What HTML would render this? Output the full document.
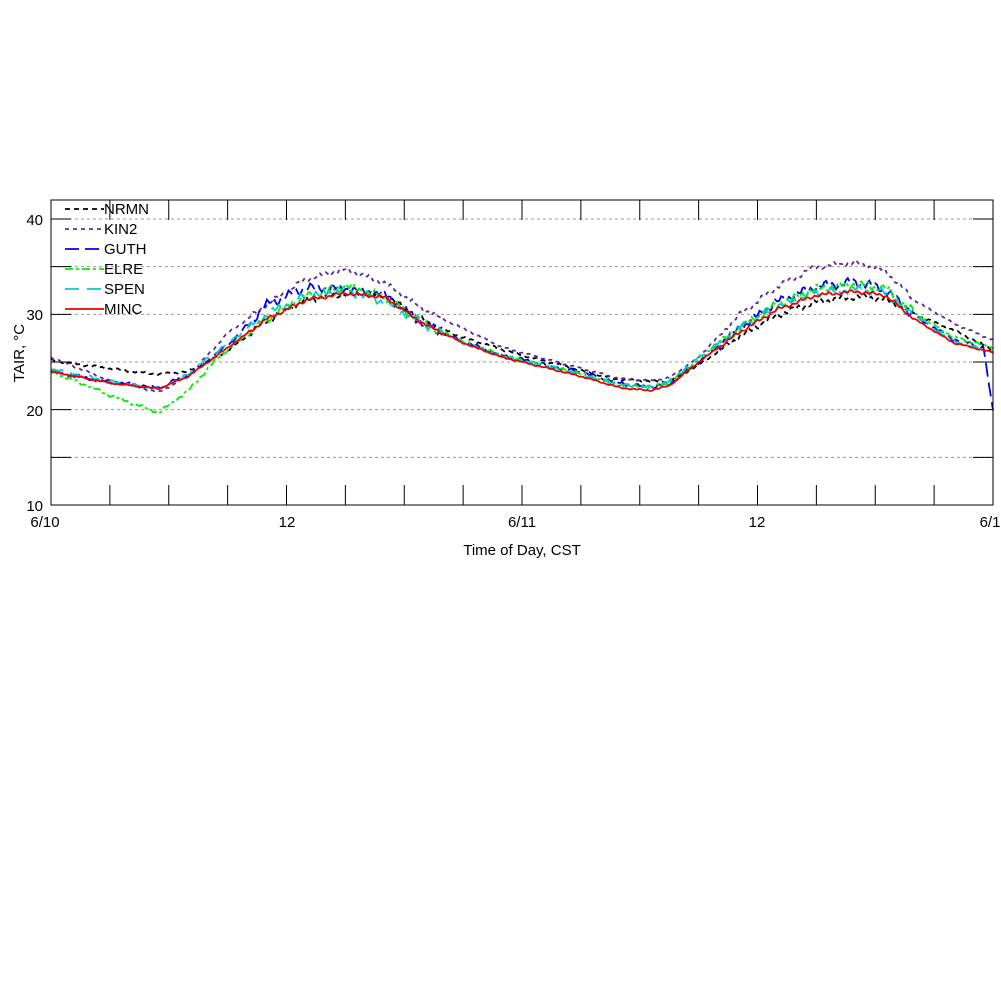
<!DOCTYPE html>
<html><head><meta charset="utf-8"><style>
body{margin:0;background:#fff;}
svg{display:block;font-family:"Liberation Sans",sans-serif;}
</style></head><body>
<svg id="s" width="1001" height="1001" xmlns="http://www.w3.org/2000/svg">
<rect width="1001" height="1001" fill="#fff"/>
<g id="grid" stroke="#999" stroke-dasharray="3,3" stroke-width="1"></g>
<g id="ticks" stroke="#000" stroke-width="1"></g>
<g id="series" fill="none" stroke-width="1.8"></g>
<rect x="51" y="200" width="942" height="305" fill="none" stroke="#000" stroke-width="1"/>
<g font-size="15" fill="#000" text-anchor="end">
<text x="43" y="225">40</text><text x="43" y="320">30</text><text x="43" y="416">20</text><text x="43" y="511">10</text>
</g>
<g font-size="15" fill="#000" text-anchor="middle">
<text x="45" y="527">6/10</text><text x="287" y="527">12</text><text x="522" y="527">6/11</text><text x="757" y="527">12</text><text x="990" y="527">6/1</text>
<text x="522" y="555">Time of Day, CST</text>
</g>
<text transform="translate(24,353) rotate(-90)" font-size="15" text-anchor="middle">TAIR, °C</text>
<g font-size="15" fill="#000" id="leg"></g>
</svg>
<script>
var NS="http://www.w3.org/2000/svg";
function el(p,t,a){var e=document.createElementNS(NS,t);for(var k in a)e.setAttribute(k,a[k]);p.appendChild(e);return e;}
var X=function(h){return 51+h*19.625},Y=function(t){return 505-(t-10)*9.533};
var g=document.getElementById('grid'),tk=document.getElementById('ticks');
[15,20,25,30,35,40].forEach(function(t){el(g,'line',{x1:51,x2:993,y1:Y(t),y2:Y(t)});});
[15,20,25,30,35,40,10].forEach(function(t){el(tk,'line',{x1:51,x2:71,y1:Y(t),y2:Y(t)});el(tk,'line',{x1:973,x2:993,y1:Y(t),y2:Y(t)});});
for(var h=3;h<48;h+=3){el(tk,'line',{x1:X(h),x2:X(h),y1:200,y2:220});el(tk,'line',{x1:X(h),x2:X(h),y1:485,y2:505});}
var base=[[0,24],[3,22.8],[5.5,22.2],[7,23.5],[9,26.5],[11,29.5],[13,31.5],[15,32.2],[17,31.8],[19,29],[21,27],[23,25.5],[25,24.5],[27,23.5],[29,22.3],[30.5,22],[31.5,22.5],[33,25],[35,28],[37,30.5],[39,32],[41,32.4],[42.5,32],[44,29.5],[46,27],[48,26]];
function interp(pts,h){for(var i=1;i<pts.length;i++){if(h<=pts[i][0]){var a=pts[i-1],b=pts[i],f=(h-a[0])/(b[0]-a[0]);return a[1]+f*(b[1]-a[1]);}}return pts[pts.length-1][1];}
var S=[
 {n:'NRMN',c:'#000',d:'5,4',off:[[0,1.2],[3,1.5],[5.5,1.5],[7,0.5],[9,-0.3],[13,0],[15,0],[19,0.3],[23,0.8],[27,0.6],[30.5,1],[33,-0.3],[39,-0.7],[42.5,-0.4],[44,0.5],[46,1.3],[48,0.3]],nz:0.35},
 {n:'KIN2',c:'#5b2a9e',d:'4,4',off:[[0,1.5],[3,0.2],[5.5,-0.4],[7,0],[9,1.5],[11,1.5],[13,2.2],[15,2.5],[17,1.5],[19,1.5],[21,1.5],[23,1],[27,0.8],[30.5,1],[33,0.5],[35,1.8],[39,3],[41,3],[42.5,2.6],[44,2],[46,2],[48,1.3]],nz:0.3},
 {n:'GUTH',c:'#0000ee',d:'14,6',off:[[0,0],[9,0.2],[11,1.5],[13,1.3],[15,0.5],[17,0.3],[19,0],[29,0.5],[33,0],[37,0.8],[41,1],[44,0.3],[47.5,0.4],[48,-6.2]],nz:0.5},
 {n:'ELRE',c:'#00ee00',d:'8,3,3,3',off:[[0,0],[2,-0.8],[5.5,-2.5],[7,-1.5],[8.5,-0.3],[11,0],[15,0.8],[17,0],[29,0.3],[33,0.3],[41,0.8],[48,0.5]],nz:0.45},
 {n:'SPEN',c:'#00cccc',d:'14,8',off:[[0,0.3],[5.5,0],[9,0.5],[13,0.5],[15,0.3],[17,-0.5],[19,0],[29,0.3],[33,0.5],[41,0.2],[44,0.4],[48,0]],nz:0.45},
 {n:'MINC',c:'#ee0000',d:'',off:[[0,0],[48,0]],nz:0.2}
];
var sg=document.getElementById('series'),lg=document.getElementById('leg');
S.forEach(function(s,k){var p='',seed=k*7.3+1;for(var i=0;i<=480;i++){var h=i/10;var t=interp(base,h)+interp(s.off,h);
 var amp=(h>10&&h<20)||(h>34&&h<44)?s.nz:s.nz*0.4;t+=amp*(Math.sin(i*1.7+seed)*0.6+Math.sin(i*0.53+seed*2)*0.5);
 p+=(i?'L':'M')+X(h).toFixed(1)+' '+Y(t).toFixed(1);}
 var a={d:p,stroke:s.c};if(s.d)a['stroke-dasharray']=s.d;el(sg,'path',a);
 var ly=209+k*20;var la={x1:65,x2:104,y1:ly,y2:ly,stroke:s.c,'stroke-width':1.8};if(s.d)la['stroke-dasharray']=s.d;el(lg,'line',la);
 var tx=el(lg,'text',{x:104,y:ly+5});tx.textContent=s.n;});
</script>
</body></html>
